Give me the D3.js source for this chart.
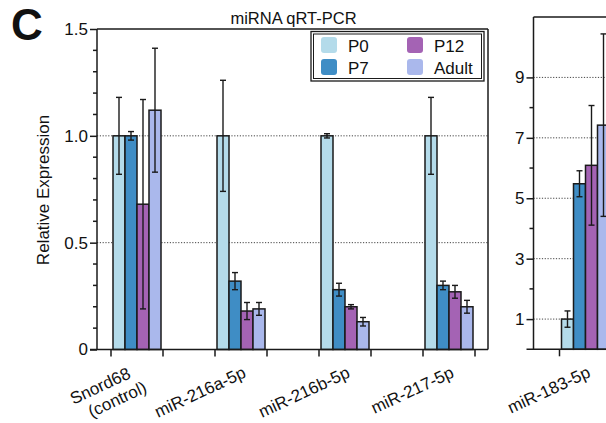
<!DOCTYPE html>
<html><head><meta charset="utf-8">
<script src="https://cdn.jsdelivr.net/npm/d3@7"></script>
<style>
html,body{margin:0;padding:0;background:#fff;overflow:hidden}
text{font-family:"Liberation Sans",Arial,Helvetica,sans-serif;fill:#111}
</style></head>
<body><svg id="c" width="606" height="423"></svg>
<script>
// ---- data ----
const series = ["P0","P7","P12","Adult"];
const colors = ["#b4dbea","#3f8dc5","#a463b4","#aab8ec"];
const leftCategories = ["Snord68\n(control)","miR-216a-5p","miR-216b-5p","miR-217-5p"];
const leftValues = [
  [1.00, 1.00, 0.68, 1.12],
  [1.00, 0.32, 0.18, 0.19],
  [1.00, 0.28, 0.20, 0.13],
  [1.00, 0.30, 0.27, 0.20]
];
const leftErrors = [
  [0.18, 0.02, 0.49, 0.29],
  [0.26, 0.04, 0.04, 0.03],
  [0.01, 0.03, 0.01, 0.02],
  [0.18, 0.02, 0.03, 0.03]
];
const leftTicks = [0, 0.5, 1.0, 1.5];
const leftTickLabels = ["0","0.5","1.0","1.5"];
const rightCategories = ["miR-183-5p"];
const rightValues = [[1.00, 5.48, 6.09, 7.42]];
const rightErrors = [[0.27, 0.43, 1.98, 3.02]];
const rightTicks = [1, 3, 5, 7, 9];
const title = "miRNA qRT-PCR";
const yTitle = "Relative Expression";

const svg = d3.select("#c");
const ink = "#1a1a1a";

svg.append("text").attr("x", 11).attr("y", 40).style("font-size","44px").style("font-weight","bold").text("C");

function panel(opt){
  const g = svg.append("g");
  const y = d3.scaleLinear().domain(opt.yDomain).range([opt.y0, opt.y1]);
  const x = d3.scaleBand().domain(opt.cats).range(opt.xRange).paddingInner(0.5).paddingOuter(0.25);
  const xs = d3.scaleBand().domain(series).range([2, x.bandwidth()-2]);
  // grid
  g.selectAll(".grid").data(opt.grid).join("line")
    .attr("x1", opt.axisX).attr("x2", opt.right).attr("y1", d=>y(d)).attr("y2", d=>y(d))
    .attr("stroke","#444").attr("stroke-width",1).attr("stroke-dasharray","1.2,1.6");
  // bars
  opt.cats.forEach((c,i)=>{
    const gg = g.append("g").attr("transform",`translate(${x(c)},0)`);
    gg.selectAll("rect").data(opt.vals[i]).join("rect")
      .attr("x",(d,j)=>xs(series[j])).attr("width",xs.bandwidth())
      .attr("y",d=>y(d)).attr("height",d=>y(0)-y(d))
      .attr("fill",(d,j)=>colors[j]).attr("stroke",ink).attr("stroke-width",1.5);
    opt.vals[i].forEach((v,j)=>{
      const e = opt.errs[i][j];
      const cx = xs(series[j]) + xs.bandwidth()/2;
      const eg = gg.append("g").attr("stroke",ink).attr("stroke-width",1.4);
      eg.append("line").attr("x1",cx).attr("x2",cx).attr("y1",y(v-e)).attr("y2",y(v+e));
      [v-e, v+e].forEach(t=>eg.append("line").attr("x1",cx-3).attr("x2",cx+3).attr("y1",y(t)).attr("y2",y(t)));
    });
  });
  // frame
  g.append("line").attr("x1",opt.axisX).attr("x2",opt.axisX).attr("y1",opt.y1).attr("y2",y(0)).attr("stroke",ink).attr("stroke-width",1.5);
  g.append("line").attr("x1",opt.axisX).attr("x2",opt.right).attr("y1",opt.y1).attr("y2",opt.y1).attr("stroke",ink).attr("stroke-width",1.5);
  if (opt.rightLine) g.append("line").attr("x1",opt.right).attr("x2",opt.right).attr("y1",opt.y1).attr("y2",y(0)).attr("stroke",ink).attr("stroke-width",1.5);
  g.append("line").attr("x1",opt.axisX-7).attr("x2",opt.right).attr("y1",y(0)).attr("y2",y(0)).attr("stroke",ink).attr("stroke-width",1.5);
  // y axis ticks
  const ya = d3.axisLeft(y).tickValues(opt.majors).tickSize(7).tickFormat((d,i)=>opt.majorLabels[i]);
  const ax = g.append("g").attr("transform",`translate(${opt.axisX},0)`).call(ya);
  ax.select(".domain").remove();
  ax.selectAll(".tick line").attr("stroke",ink).attr("stroke-width",1.5);
  ax.selectAll(".tick text").style("font-size","17px").attr("x",-9).attr("fill","#111");
  g.selectAll(".minor").data(opt.minors).join("line")
    .attr("x1",opt.axisX-4).attr("x2",opt.axisX).attr("y1",d=>y(d)).attr("y2",d=>y(d))
    .attr("stroke",ink).attr("stroke-width",1.5);
  // x ticks at band edges
  opt.cats.forEach(c=>{
    [x(c), x(c)+x.bandwidth()].forEach(t=>g.append("line").attr("x1",t).attr("x2",t).attr("y1",y(0)).attr("y2",y(0)+7).attr("stroke",ink).attr("stroke-width",1.5));
    const cx = x(c)+x.bandwidth()/2;
    const lines = c.split("\n");
    const tg = g.append("g").attr("transform",`translate(${cx+6},${y(0)+27}) rotate(-25)`);
    lines.forEach((ln,k)=>{
      const off = lines.length>1 ? (k===0?[-10.7,-3.8]:[-1.8,15.7]) : [0,0];
      tg.append("text").attr("x",off[0]).attr("y",off[1]).attr("text-anchor","end").style("font-size","17px").text(ln);
    });
  });
  return {x,y};
}

panel({cats:leftCategories, vals:leftValues, errs:leftErrors, yDomain:[0,1.5], y0:349.5, y1:29,
  xRange:[85,501], axisX:97, right:488, rightLine:true, grid:[0.5,1.0],
  majors:leftTicks, majorLabels:leftTickLabels, minors:d3.range(1,15).filter(i=>i%5!==0).map(i=>i/10)});

panel({cats:rightCategories, vals:rightValues, errs:rightErrors, yDomain:[0,11], y0:349.3, y1:17,
  xRange:[533.5,637.5], axisX:533.5, right:606, rightLine:false, grid:rightTicks,
  majors:rightTicks, majorLabels:rightTicks.map(String), minors:[2,4,6,8]});

// title
svg.append("text").attr("x",293.5).attr("y",24).attr("text-anchor","middle").style("font-size","16.5px").text(title);
// y title
svg.append("text").attr("transform","translate(48.5,190) rotate(-90)").attr("text-anchor","middle").style("font-size","17px").text(yTitle);

// legend
const lg = svg.append("g");
lg.append("rect").attr("x",311).attr("y",31.5).attr("width",173).attr("height",49.5).attr("fill","#fff").attr("stroke",ink).attr("stroke-width",1.3);
lg.append("rect").attr("x",313.5).attr("y",34).attr("width",168).attr("height",44.5).attr("fill","none").attr("stroke",ink).attr("stroke-width",1);
const pos = [[321,37],[321,59],[407,37],[407,59]];
series.forEach((s,i)=>{
  lg.append("rect").attr("x",pos[i][0]).attr("y",pos[i][1]).attr("width",16).attr("height",16).attr("rx",3).attr("fill",colors[i]);
  lg.append("text").attr("x",pos[i][0]+27).attr("y",pos[i][1]+14.5).style("font-size","17px").text(s);
});
</script></body></html>
